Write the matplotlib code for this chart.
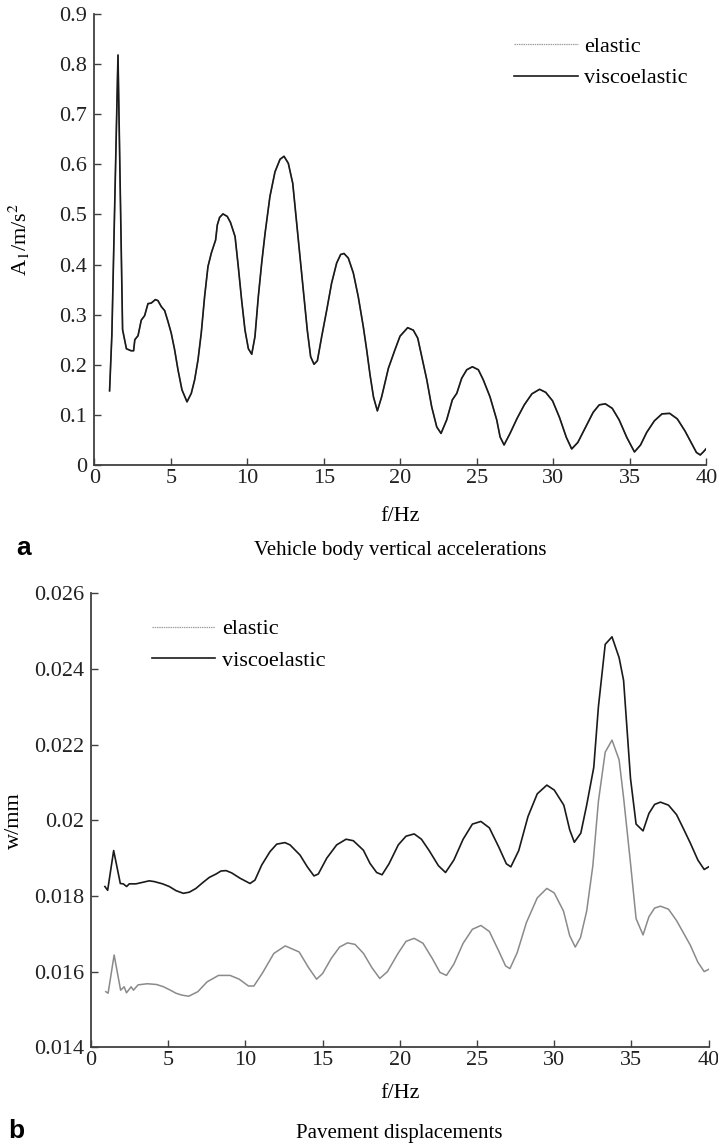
import matplotlib
matplotlib.use("Agg")
import matplotlib.pyplot as plt
from matplotlib.lines import Line2D

plt.rcParams["font.family"] = ["Liberation Serif", "DejaVu Serif"]
plt.rcParams["mathtext.fontset"] = "stix"

# (a) vehicle body vertical acceleration, A1 in m/s^2
acc_f = [1.0, 1.15, 1.55, 1.85, 2.1, 2.4, 2.57, 2.65, 2.86, 3.07, 3.29, 3.51, 3.72, 3.99,
         4.16, 4.38, 4.6, 4.82, 5.03, 5.25, 5.47, 5.73, 6.06, 6.34, 6.56, 6.78, 6.99, 7.21,
         7.43, 7.65, 7.93, 8.04, 8.19, 8.41, 8.69, 8.9, 9.2, 9.41, 9.63, 9.85, 10.07, 10.29,
         10.5, 10.72, 10.94, 11.16, 11.48, 11.81, 12.14, 12.4, 12.68, 12.97, 13.18, 13.4,
         13.66, 13.92, 14.14, 14.36, 14.58, 14.86, 15.19, 15.51, 15.84, 16.1, 16.32, 16.6,
         16.93, 17.25, 17.58, 17.8, 18.02, 18.25, 18.5, 18.78, 19.22, 19.65, 19.98, 20.48,
         20.85, 21.14, 21.4, 21.73, 22.05, 22.38, 22.66, 23.03, 23.4, 23.69, 24.01, 24.34,
         24.71, 25.1, 25.42, 25.86, 26.3, 26.52, 26.78, 27.17, 27.63, 28.1, 28.6, 29.1,
         29.5, 29.95, 30.4, 30.85, 31.2, 31.6, 32.1, 32.6, 33.0, 33.4, 33.85, 34.3, 34.8,
         35.3, 35.7, 36.1, 36.6, 37.1, 37.6, 38.1, 38.6, 39.0, 39.35, 39.6, 39.8, 40.0]
acc_visco = [0.148, 0.26, 0.818, 0.27, 0.232, 0.228, 0.228, 0.250, 0.258, 0.289, 0.298,
             0.322, 0.323, 0.330, 0.328, 0.316, 0.308, 0.286, 0.263, 0.23, 0.19, 0.15,
             0.126, 0.143, 0.170, 0.21, 0.263, 0.336, 0.396, 0.423, 0.449, 0.479, 0.494,
             0.501, 0.496, 0.484, 0.456, 0.396, 0.329, 0.269, 0.232, 0.221, 0.256, 0.336,
             0.403, 0.462, 0.536, 0.585, 0.610, 0.616, 0.602, 0.562, 0.496, 0.429, 0.349,
             0.269, 0.216, 0.201, 0.208, 0.256, 0.309, 0.363, 0.403, 0.420, 0.422, 0.413,
             0.383, 0.336, 0.276, 0.23, 0.18, 0.135, 0.108, 0.136, 0.193, 0.23, 0.257,
             0.274, 0.269, 0.253, 0.216, 0.170, 0.116, 0.076, 0.063, 0.090, 0.130, 0.143,
             0.173, 0.190, 0.196, 0.190, 0.170, 0.136, 0.090, 0.056, 0.040, 0.063, 0.093,
             0.120, 0.142, 0.151, 0.145, 0.128, 0.095, 0.055, 0.032, 0.045, 0.075, 0.105,
             0.120, 0.122, 0.113, 0.090, 0.055, 0.026, 0.040, 0.065, 0.088, 0.102, 0.103,
             0.092, 0.068, 0.045, 0.025, 0.020, 0.026, 0.033]
# elastic and viscoelastic accelerations coincide
acc_elastic = list(acc_visco)

# (b) pavement displacement, w in mm
disp_f_visco = [0.9, 1.08, 1.47, 1.9, 2.09, 2.31, 2.48, 2.91, 3.45, 3.77, 4.1, 4.64, 5.07,
                5.51, 5.98, 6.37, 6.8, 7.23, 7.66, 8.1, 8.42, 8.75, 9.11, 9.65, 10.3, 10.62,
                11.06, 11.59, 12.03, 12.56, 12.89, 13.54, 14.01, 14.44, 14.72, 15.27, 15.91,
                16.52, 16.99, 17.64, 18.07, 18.5, 18.85, 19.3, 19.9, 20.4, 20.93, 21.4, 21.9,
                22.5, 22.96, 23.5, 24.1, 24.7, 25.25, 25.8, 26.4, 26.9, 27.19, 27.7, 28.3,
                28.9, 29.52, 30.0, 30.62, 31.0, 31.3, 31.72, 32.1, 32.56, 32.86, 33.3, 33.74,
                34.2, 34.49, 34.94, 35.3, 35.75, 36.13, 36.5, 36.88, 37.4, 37.92, 38.4, 38.81,
                39.3, 39.71, 40.0]
disp_visco = [0.01825, 0.01815, 0.01920, 0.01833, 0.01832, 0.01825, 0.01832, 0.01832,
              0.01837, 0.01840, 0.01838, 0.01832, 0.01825, 0.01814, 0.01807, 0.01810,
              0.01820, 0.01835, 0.01849, 0.01858, 0.01866, 0.01867, 0.01861, 0.01847,
              0.01833, 0.01842, 0.01882, 0.01917, 0.01937, 0.01941, 0.01935, 0.01908,
              0.01877, 0.01853, 0.01858, 0.01900, 0.01935, 0.01950, 0.01946, 0.01921,
              0.01886, 0.01862, 0.01856, 0.01885, 0.01935, 0.01958, 0.01964, 0.01950,
              0.01920, 0.01880, 0.01862, 0.01895, 0.01950, 0.01990, 0.01997, 0.01980,
              0.01930, 0.01885, 0.01877, 0.01920, 0.02010, 0.02070, 0.02093, 0.02080,
              0.02040, 0.01975, 0.01942, 0.01966, 0.02040, 0.02140, 0.02300, 0.02465,
              0.02485, 0.02430, 0.02370, 0.02110, 0.01990, 0.01972, 0.02018, 0.02042,
              0.02048, 0.02040, 0.02015, 0.01975, 0.01940, 0.01895, 0.01870, 0.01877]

disp_f_elastic = [0.96, 1.11, 1.5, 1.92, 2.15, 2.3, 2.6, 2.75, 3.05, 3.65, 4.24, 4.7, 5.14,
                  5.5, 5.88, 6.33, 6.92, 7.52, 8.26, 9.01, 9.6, 10.2, 10.55, 11.1, 11.84,
                  12.58, 13.48, 14.1, 14.61, 15.0, 15.56, 16.1, 16.61, 17.1, 17.65, 18.2,
                  18.7, 19.2, 19.88, 20.4, 20.93, 21.5, 22.1, 22.6, 23.02, 23.5, 24.1, 24.7,
                  25.25, 25.8, 26.4, 26.85, 27.13, 27.6, 28.2, 28.9, 29.52, 30.0, 30.6,
                  31.0, 31.36, 31.7, 32.1, 32.5, 32.86, 33.3, 33.74, 34.2, 34.49, 34.94,
                  35.3, 35.75, 36.13, 36.5, 36.88, 37.4, 37.92, 38.4, 38.81, 39.3, 39.71, 40.0]
disp_elastic = [0.01547, 0.01543, 0.01644, 0.01551, 0.01560, 0.01544, 0.01560, 0.01551,
                0.01565, 0.01568, 0.01566, 0.01560, 0.01551, 0.01543, 0.01538, 0.01535,
                0.01547, 0.01573, 0.01590, 0.01590, 0.01580, 0.01562, 0.01562, 0.01596,
                0.01648, 0.01668, 0.01652, 0.01610, 0.01580, 0.01595, 0.01635, 0.01665,
                0.01676, 0.01672, 0.01648, 0.01610, 0.01582, 0.01600, 0.01648, 0.01680,
                0.01688, 0.01675, 0.01635, 0.01598, 0.01590, 0.01620, 0.01675, 0.01712,
                0.01722, 0.01706, 0.01655, 0.01615, 0.01608, 0.01650, 0.01730, 0.01795,
                0.01820, 0.01808, 0.01760, 0.01695, 0.01665, 0.01690, 0.01760, 0.01880,
                0.02050, 0.02180, 0.02212, 0.02160, 0.02060, 0.01886, 0.01740, 0.01697,
                0.01745, 0.01768, 0.01773, 0.01765, 0.01735, 0.01700, 0.01670, 0.01625,
                0.01600, 0.01606]

x_ticks = [0, 5, 10, 15, 20, 25, 30, 35, 40]
acc_ticks = [0, 0.1, 0.2, 0.3, 0.4, 0.5, 0.6, 0.7, 0.8, 0.9]
acc_tick_labels = ["0", "0.1", "0.2", "0.3", "0.4", "0.5", "0.6", "0.7", "0.8", "0.9"]
disp_ticks = [0.014, 0.016, 0.018, 0.020, 0.022, 0.024, 0.026]
disp_tick_labels = ["0.014", "0.016", "0.018", "0.02", "0.022", "0.024", "0.026"]

BLACK = "#1a1a1a"
GREY = "#8a8a8a"
SPINE = "#404040"
FS = 16


def style_axes(ax):
    for s in ["top", "right"]:
        ax.spines[s].set_visible(False)
    for s in ["left", "bottom"]:
        ax.spines[s].set_color(SPINE)
        ax.spines[s].set_linewidth(1.3)
    ax.tick_params(direction="in", length=5, width=1.0, color=SPINE,
                   labelsize=FS, labelcolor="#222222")
    ax.tick_params(axis="x", pad=3)
    ax.tick_params(axis="y", pad=5)


def add_legend(ax, anchor):
    handles = [Line2D([], [], color="#a0a0a0", lw=0.9, ls=(0, (1.2, 0.6))),
               Line2D([], [], color=BLACK, lw=1.2)]
    ax.legend(handles, ["elastic", "viscoelastic"], loc="upper left",
              bbox_to_anchor=anchor, frameon=False, fontsize=FS,
              handlelength=2.85, handletextpad=0.3, labelspacing=0.5,
              borderpad=0, borderaxespad=0)


fig = plt.figure(figsize=(7.18, 11.45), dpi=100)

# panel a
ax1 = fig.add_axes([0.1313, 0.5939, 0.8525, 0.3939])
ax1.plot(acc_f, acc_elastic, color=GREY, lw=1.0)
ax1.plot(acc_f, acc_visco, color=BLACK, lw=1.2)
ax1.set_xlim(0, 40)
ax1.set_ylim(0, 0.9)
ax1.set_xticks(x_ticks)
ax1.set_yticks(acc_ticks)
ax1.set_yticklabels(acc_tick_labels)
style_axes(ax1)
ax1.set_xlabel("f/Hz", fontsize=FS)
ax1.xaxis.set_label_coords(0.5, -0.114)
ax1.xaxis.label.set_va("center")
ax1.set_ylabel(r"A$_1$/m/s$^2$", fontsize=FS)
ax1.yaxis.set_label_coords(-0.122, 0.5)
ax1.yaxis.label.set_va("center")
add_legend(ax1, (0.6865, 0.951))

# panel b
ax2 = fig.add_axes([0.1267, 0.08533, 0.8603, 0.3965])
ax2.plot(disp_f_elastic, disp_elastic, color=GREY, lw=1.1)
ax2.plot(disp_f_visco, disp_visco, color=BLACK, lw=1.2)
ax2.set_xlim(0, 40)
ax2.set_ylim(0.014, 0.026)
ax2.set_xticks(x_ticks)
ax2.set_yticks(disp_ticks)
ax2.set_yticklabels(disp_tick_labels)
style_axes(ax2)
ax2.set_xlabel("f/Hz", fontsize=FS)
ax2.xaxis.set_label_coords(0.5, -0.1007)
ax2.xaxis.label.set_va("center")
ax2.set_ylabel("w/mm", fontsize=FS)
ax2.yaxis.set_label_coords(-0.124, 0.5)
ax2.yaxis.label.set_va("center")
add_legend(ax2, (0.0988, 0.944))

# panel captions
fig.text(0.022, 0.5153, "a", family="Liberation Sans", weight="bold", fontsize=19)
fig.text(0.558, 0.5153, "Vehicle body vertical accelerations", ha="center", fontsize=15)
fig.text(0.012, 0.0064, "b", family="Liberation Sans", weight="bold", fontsize=19)
fig.text(0.556, 0.0064, "Pavement displacements", ha="center", fontsize=15)

fig.savefig("out.png", dpi=100)
